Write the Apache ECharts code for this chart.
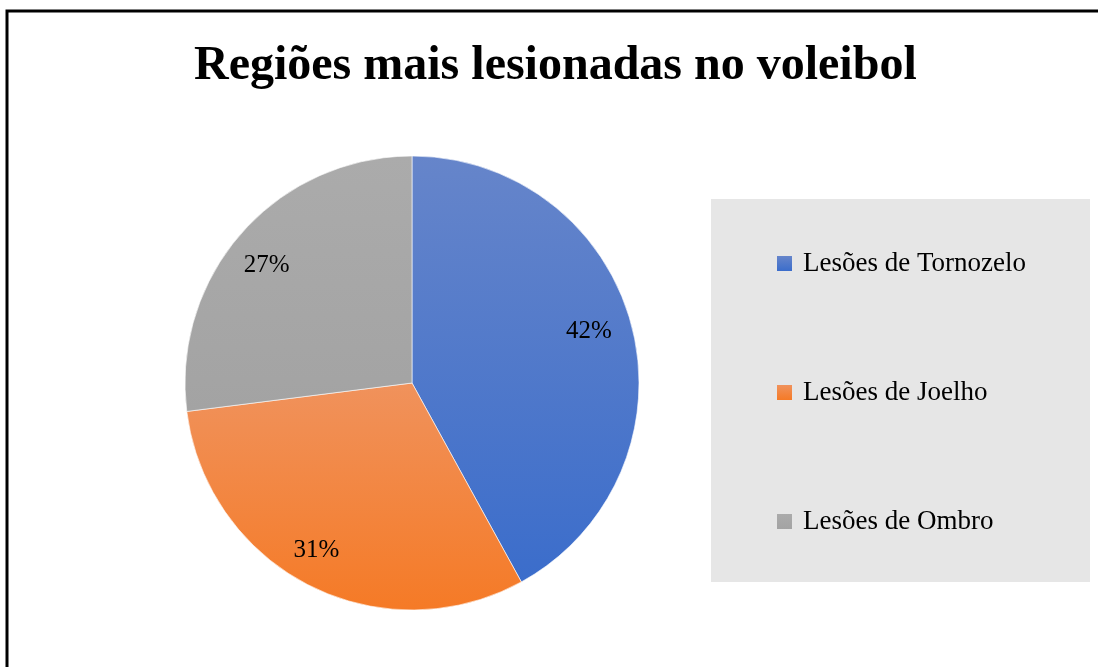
<!DOCTYPE html>
<html>
<head>
<meta charset="utf-8">
<script src="https://cdn.jsdelivr.net/npm/echarts@6/dist/echarts.min.js"></script>
<style>
    html, body { margin: 0; padding: 0; background: #fff; }
    #chart { width: 1098px; height: 667px; }
</style>
</head>
<body>
<div id="chart"></div>
<script>
// dados do gráfico
const titulo = 'Regiões mais lesionadas no voleibol'
const categorias = ['Lesões de Tornozelo', 'Lesões de Joelho', 'Lesões de Ombro']
const valores = [42, 31, 27]

// gradientes estilo Office (claro em cima, escuro embaixo)
const cores = [
    ['#6685ca', '#3b6dcb'],
    ['#f0925c', '#f57a26'],
    ['#ababab', '#a3a3a3']
]
// pequeno ajuste dos rótulos (o Excel não centra no meio do ângulo)
const ajusteRotulo = [[-8, -4], [-9, -3], [-2, 9]]

const grad = (c) => new echarts.graphic.LinearGradient(0, 0, 0, 1, [
    { offset: 0, color: c[0] },
    { offset: 1, color: c[1] }
])

const fonte = '"Liberation Serif", "Times New Roman", serif'

const myChart = echarts.init(document.getElementById('chart'), null, { renderer: 'canvas' })

const option = {
    animation: false,
    title: {
        text: titulo,
        left: 189,
        top: 38,
        textStyle: {
            fontFamily: fonte,
            fontWeight: 'bold',
            fontSize: 48,
            color: '#000'
        }
    },
    graphic: [
        // moldura (só topo e esquerda aparecem no recorte)
        {
            type: 'rect',
            silent: true,
            shape: { x: 7, y: 11, width: 1300, height: 1000 },
            style: { fill: 'none', stroke: '#000', lineWidth: 3 }
        },
        // fundo da legenda
        {
            type: 'rect',
            silent: true,
            z: -1,
            shape: { x: 711, y: 199, width: 379, height: 383 },
            style: { fill: '#e6e6e6' }
        }
    ],
    legend: {
        orient: 'vertical',
        left: 777,
        top: 250,
        padding: 0,
        icon: 'rect',
        itemWidth: 15,
        itemHeight: 15,
        itemGap: 102,
        selectedMode: false,
        itemStyle: { borderWidth: 0 },
        textStyle: {
            fontFamily: fonte,
            fontSize: 27,
            lineHeight: 26,
            color: '#000',
            padding: [0, 0, 0, 6]
        },
        data: categorias
    },
    series: [
        {
            type: 'pie',
            center: [412, 383],
            radius: 227,
            startAngle: 90,
            clockwise: true,
            silent: true,
            label: { show: false },
            labelLine: { show: false },
            itemStyle: { borderColor: '#fff', borderWidth: 0.6 },
            data: categorias.map((nome, i) => ({
                name: nome,
                value: valores[i],
                itemStyle: { color: grad(cores[i]) }
            }))
        },
        // série só para posicionar os rótulos a ~83% do raio
        {
            type: 'pie',
            center: [412, 383],
            radius: [149, 227],
            startAngle: 90,
            clockwise: true,
            silent: true,
            legendHoverLink: false,
            itemStyle: { color: 'transparent', borderWidth: 0 },
            label: {
                show: true,
                position: 'inside',
                formatter: '{d}%',
                fontFamily: fonte,
                fontSize: 25,
                color: '#000'
            },
            labelLine: { show: false },
            data: categorias.map((nome, i) => ({
                name: nome + ' ',
                value: valores[i],
                label: { offset: ajusteRotulo[i] }
            }))
        }
    ]
}

myChart.setOption(option)
</script>
</body>
</html>
